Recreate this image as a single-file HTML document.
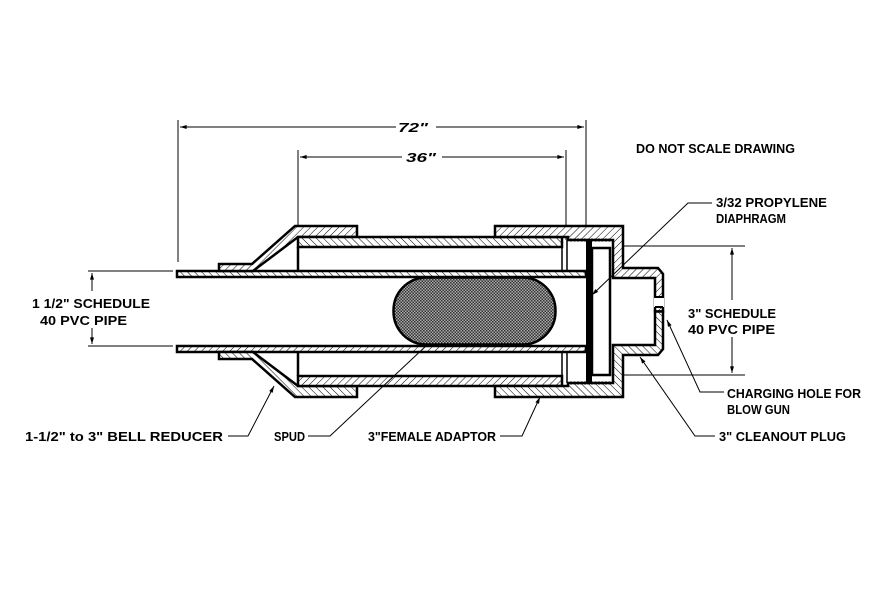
<!DOCTYPE html>
<html><head><meta charset="utf-8"><style>
html,body{margin:0;padding:0;background:#fff}
svg{display:block}
text{font-family:"Liberation Sans Narrow","Liberation Sans",sans-serif;font-weight:bold;font-size:13px;fill:#000}
</style></head><body>
<svg width="890" height="608" viewBox="0 0 890 608" xmlns="http://www.w3.org/2000/svg">
<defs>
<pattern id="h1" width="5" height="5" patternUnits="userSpaceOnUse" patternTransform="rotate(45)">
<rect width="5" height="5" fill="#fff"/><line x1="0" y1="0" x2="0" y2="5" stroke="#000" stroke-width="1"/></pattern>
<pattern id="h2" width="5" height="5" patternUnits="userSpaceOnUse" patternTransform="rotate(-45)">
<rect width="5" height="5" fill="#fff"/><line x1="0" y1="0" x2="0" y2="5" stroke="#000" stroke-width="1"/></pattern>
<pattern id="x" width="3" height="3" patternUnits="userSpaceOnUse">
<rect width="3" height="3" fill="#aaa"/><rect width="1.5" height="1.5" fill="#333"/><rect x="1.5" y="1.5" width="1.5" height="1.5" fill="#333"/></pattern>
<marker id="a" viewBox="0 0 10 6" refX="10" refY="3" markerWidth="8" markerHeight="4" orient="auto-start-reverse" markerUnits="userSpaceOnUse"><path d="M0,0L10,3L0,6z" fill="#000"/></marker>
</defs>

<g stroke="#000" fill="none">
<!-- dimension lines -->
<line x1="178" y1="120" x2="178" y2="262" stroke-width="1"/>
<line x1="586" y1="120" x2="586" y2="240" stroke-width="1"/>
<line x1="298" y1="150" x2="298" y2="237" stroke-width="1"/>
<line x1="566" y1="150" x2="566" y2="240" stroke-width="1"/>
<line x1="180" y1="127" x2="396" y2="127" stroke-width="1" marker-start="url(#a)"/>
<line x1="436" y1="127" x2="584" y2="127" stroke-width="1" marker-end="url(#a)"/>
<line x1="300" y1="157" x2="402" y2="157" stroke-width="1" marker-start="url(#a)"/>
<line x1="442" y1="157" x2="564" y2="157" stroke-width="1" marker-end="url(#a)"/>
<!-- left dim -->
<line x1="88" y1="271" x2="173" y2="271" stroke-width="1"/>
<line x1="88" y1="346" x2="173" y2="346" stroke-width="1"/>
<line x1="92" y1="291" x2="92" y2="273" stroke-width="1" marker-end="url(#a)"/>
<line x1="92" y1="328" x2="92" y2="344" stroke-width="1" marker-end="url(#a)"/>
<!-- right dim -->
<line x1="622" y1="246" x2="745" y2="246" stroke-width="1"/>
<line x1="622" y1="375" x2="745" y2="375" stroke-width="1"/>
<line x1="732" y1="300" x2="732" y2="248" stroke-width="1" marker-end="url(#a)"/>
<line x1="732" y1="337" x2="732" y2="373" stroke-width="1" marker-end="url(#a)"/>
</g>

<!-- top half -->
<g id="half" stroke="#000" stroke-width="2.5" stroke-linejoin="miter">
<rect x="177" y="271" width="409" height="6" fill="url(#h2)"/>
<polygon points="219,264 252,264 295,226 357,226 357,237 298,237 253,271 219,271" fill="url(#h1)"/>
<rect x="298" y="237" width="264" height="10" fill="url(#h2)"/>
<line x1="298" y1="247" x2="298" y2="271"/>
<line x1="562" y1="247" x2="562" y2="271" stroke-width="1.5"/>
<line x1="567" y1="240" x2="567" y2="271" stroke-width="1.5"/>
<path d="M495,226 L623,226 L623,268 L658,268 L663,274 L663,311.5 L655,311.5 L655,278 L613,278 L613,240 L568,240 L568,237 L495,237 Z" fill="url(#h1)"/>
<line x1="570" y1="240" x2="612" y2="240" stroke-width="3" stroke-dasharray="2,1.5"/>
</g>
<use href="#half" transform="translate(0,623) scale(1,-1)"/>

<!-- charging hole -->
<rect x="654" y="298" width="10" height="9" fill="#fff"/>
<line x1="655" y1="297" x2="663" y2="297" stroke="#000" stroke-width="2"/>
<line x1="655" y1="307" x2="663" y2="307" stroke="#000" stroke-width="2"/>

<!-- diaphragm and bar -->
<rect x="586" y="240" width="6" height="143" fill="#000"/>
<rect x="592" y="248" width="18" height="127" fill="#fff" stroke="#000" stroke-width="2.5"/>

<!-- spud -->
<rect x="393.5" y="277.5" width="162" height="67" rx="33" ry="33" fill="url(#x)" stroke="#000" stroke-width="2.5"/>

<!-- leaders -->
<g stroke="#000" stroke-width="1" fill="none">
<polyline points="228,436 248,436 274,386" marker-end="url(#a)"/>
<polyline points="308,436 330,436 427,345"/>
<polyline points="500,436 522,436 540,397" marker-end="url(#a)"/>
<polyline points="715,436 695,436 640,357" marker-end="url(#a)"/>
<polyline points="724,392 700,392 667,320" marker-end="url(#a)"/>
<polyline points="712,203 688,203 592,295" marker-end="url(#a)"/>
</g>

<!-- text -->
<text x="398" y="132" textLength="30" lengthAdjust="spacingAndGlyphs" font-style="italic" font-weight="normal">72"</text>
<text x="406" y="162" textLength="30" lengthAdjust="spacingAndGlyphs" font-style="italic" font-weight="normal">36"</text>
<text x="636" y="153" textLength="159" lengthAdjust="spacingAndGlyphs">DO NOT SCALE DRAWING</text>
<text x="716" y="207" textLength="111" lengthAdjust="spacingAndGlyphs">3/32 PROPYLENE</text>
<text x="716" y="223" textLength="70" lengthAdjust="spacingAndGlyphs">DIAPHRAGM</text>
<text x="688" y="318" textLength="88" lengthAdjust="spacingAndGlyphs">3" SCHEDULE</text>
<text x="688" y="334" textLength="87" lengthAdjust="spacingAndGlyphs">40 PVC PIPE</text>
<text x="32" y="308" textLength="118" lengthAdjust="spacingAndGlyphs">1 1/2" SCHEDULE</text>
<text x="40" y="325" textLength="87" lengthAdjust="spacingAndGlyphs">40 PVC PIPE</text>
<text x="727" y="398" textLength="134" lengthAdjust="spacingAndGlyphs">CHARGING HOLE FOR</text>
<text x="727" y="414" textLength="63" lengthAdjust="spacingAndGlyphs">BLOW GUN</text>
<text x="25" y="441" textLength="198" lengthAdjust="spacingAndGlyphs">1-1/2" to 3" BELL REDUCER</text>
<text x="274" y="441" textLength="31" lengthAdjust="spacingAndGlyphs">SPUD</text>
<text x="368" y="441" textLength="128" lengthAdjust="spacingAndGlyphs">3"FEMALE ADAPTOR</text>
<text x="719" y="441" textLength="127" lengthAdjust="spacingAndGlyphs">3" CLEANOUT PLUG</text>
</svg>
</body></html>
